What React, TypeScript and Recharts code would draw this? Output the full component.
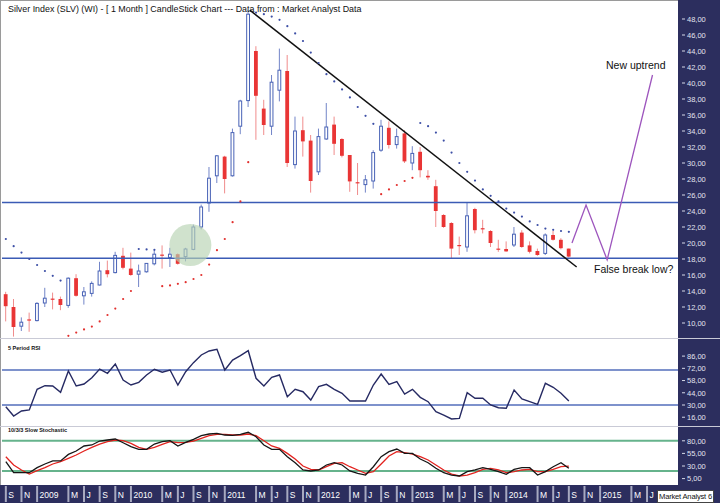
import React from 'react';
import { ComposedChart, LineChart, Line, Bar, XAxis, YAxis, ReferenceLine, ReferenceDot } from 'recharts';

// monthly bars, Sep 2008 .. Sep 2014 (index 0 = Sep 2008)
const openP = [13.6, 12.0, 9.6, 10.45, 10.3, 12.5, 13.05, 13.0, 12.2, 15.6, 13.4, 13.7, 14.75, 16.6, 16.3, 18.4, 16.8, 16.1, 16.4, 17.4, 18.55, 18.2, 18.6, 18.3, 19.2, 22.0, 25.0, 28.4, 30.8, 28.4, 34.6, 37.8, 44.0, 36.8, 34.6, 39.1, 41.5, 29.8, 34.1, 32.8, 28.9, 33.0, 34.8, 33.0, 31.0, 27.6, 27.3, 27.75, 31.6, 34.4, 32.3, 33.7, 30.0, 31.4, 28.4, 27.1, 23.5, 22.5, 19.75, 19.5, 24.25, 21.85, 21.5, 19.3, 19.25, 19.75, 21.3, 19.7, 19.0, 18.7, 21.0, 20.4, 19.3];
const highP = [13.9, 13.0, 10.7, 11.3, 12.6, 14.4, 13.8, 13.3, 15.7, 16.1, 14.5, 15.2, 17.65, 17.8, 18.9, 19.4, 18.8, 17.3, 17.5, 19.1, 19.7, 19.4, 18.7, 19.4, 22.3, 24.8, 29.5, 31.0, 30.9, 34.3, 37.9, 49.1, 44.6, 37.9, 41.0, 44.3, 43.5, 35.8, 35.8, 33.5, 34.3, 37.5, 35.8, 33.1, 31.0, 30.0, 28.5, 31.6, 35.4, 35.2, 34.3, 34.1, 32.1, 32.0, 29.1, 27.9, 23.6, 22.6, 20.8, 25.0, 24.4, 22.9, 21.6, 20.4, 20.2, 22.0, 21.6, 20.2, 19.3, 21.2, 21.5, 20.6, 19.3];
const lowP = [10.2, 8.3, 9.0, 8.9, 10.2, 12.0, 11.7, 11.6, 11.9, 13.3, 12.3, 13.3, 14.7, 15.7, 16.2, 16.7, 15.9, 14.5, 16.3, 17.2, 16.8, 17.0, 17.3, 17.7, 19.1, 21.7, 23.9, 27.5, 26.2, 28.3, 33.6, 37.0, 32.9, 33.5, 33.5, 37.7, 29.5, 29.3, 30.8, 26.3, 28.5, 32.9, 31.0, 30.7, 26.4, 26.0, 26.3, 26.8, 31.4, 31.8, 31.8, 30.0, 29.1, 28.2, 27.9, 22.0, 21.9, 18.1, 18.5, 18.9, 21.2, 21.2, 19.5, 18.9, 18.9, 19.5, 19.4, 18.7, 18.4, 18.5, 20.3, 19.2, 18.2];
const closeP = [12.1, 9.5, 10.1, 10.35, 12.45, 13.1, 12.95, 12.25, 15.6, 13.4, 13.9, 14.95, 16.5, 16.1, 18.45, 16.9, 16.0, 16.5, 17.45, 18.6, 18.45, 18.6, 17.4, 19.25, 22.0, 24.5, 28.1, 30.9, 28.0, 33.8, 37.75, 48.6, 38.4, 34.75, 40.1, 41.6, 30.0, 34.0, 32.7, 27.75, 33.3, 34.5, 32.4, 30.9, 27.7, 27.5, 27.9, 31.3, 34.6, 32.25, 33.3, 30.2, 31.2, 29.1, 28.2, 24.0, 22.0, 19.3, 19.65, 23.4, 21.6, 21.75, 20.0, 19.2, 18.95, 21.1, 19.5, 18.9, 18.5, 21.0, 20.4, 19.35, 18.3];

// parabolic SAR: below price (red) and above price (blue)
const sarBelow = [null, null, null, null, null, null, null, null, 8.4, 8.8, 9.2, 9.55, 10.2, 11.0, 11.8, 13.0, 14.0, null, null, null, 14.6, 14.7, 14.9, 15.1, 15.5, 16.0, 17.3, 19.1, 20.5, 22.6, 25.2, 30.1, null, null, null, null, null, null, null, null, null, null, null, null, null, null, null, null, 26.1, 26.7, 27.25, 27.75, 28.15, null, null, null, null, null, null, null, null, null, null, null, null, null, null, null, null, null, null, null, null];
const sarAbove = [20.5, 19.6, 18.8, 18.0, 17.25, 16.5, 15.9, 15.3, null, null, null, null, null, null, null, null, null, 19.25, 19.2, 19.15, null, null, null, null, null, null, null, null, null, null, null, null, 48.8, 48.6, 48.3, 47.9, 47.1, 46.2, 45.25, 43.8, 42.5, 41.1, 40.2, 39.2, 38.2, 37.0, 35.9, 34.9, null, null, null, null, null, 35.0, 34.6, 33.8, 32.8, 31.3, 30.0, 28.9, 27.8, 26.7, 25.9, 25.2, 24.3, 23.8, 23.3, 22.7, 22.25, 21.8, 21.65, 21.5, 21.4];

const rsi5 = [28, 17.4, 23.1, 24.3, 48.0, 52.1, 51.8, 44.5, 69.0, 51.8, 54, 61.3, 71.2, 66.3, 77.0, 58.6, 52.9, 56, 64.4, 70.9, 67.5, 70.1, 52.9, 68.1, 78.5, 87.3, 91.9, 93.8, 70.1, 81.5, 86.5, 92.2, 60.6, 51.8, 61.7, 64.4, 39.5, 48.0, 45.2, 35.7, 51.0, 53.7, 48.0, 43.4, 34.6, 34.6, 34.6, 52.9, 65.5, 53.7, 56.7, 42.6, 48.0, 38.8, 33.8, 22.3, 18.5, 14.0, 14.7, 44.1, 37.7, 37.7, 30.0, 26.9, 26.2, 47.2, 36.9, 33.8, 30.8, 54.9, 50.3, 43.4, 34.6];
const stochK = [38.5, 16.7, 16.7, 16.7, 26.7, 34, 40, 40, 53, 59.8, 69.7, 71.7, 79.6, 81.6, 83.6, 76.2, 68.3, 63, 63, 73.6, 78.2, 80.2, 69.7, 77, 83, 90.2, 93.5, 94.9, 91.5, 90.9, 92.9, 96.9, 88.1, 71.7, 63, 63, 48.5, 36.5, 22.1, 20.1, 22.1, 32, 36.5, 32, 20.1, 15.5, 12.1, 28.6, 48.5, 58.4, 63.7, 55.1, 55.1, 43.8, 36.5, 25.4, 16.7, 12.1, 10.2, 18.8, 22.1, 26.7, 23.4, 18.8, 13.5, 23.4, 26.7, 26.7, 12.1, 18.8, 28.6, 36.5, 25.4];
const stochD = [48.5, 32, 22.1, 14.1, 20.7, 26.7, 34, 38.5, 45.2, 51.8, 59.8, 67, 73.6, 78.2, 81.6, 80.2, 74.9, 67, 63, 67, 72.9, 78.2, 76.2, 77, 79.6, 84.9, 90.2, 92.9, 92.9, 91.5, 91.5, 93.5, 90.2, 80.2, 69.7, 65, 55.1, 43.8, 29.9, 23.4, 22.1, 28.6, 35.3, 36.5, 28.6, 22.1, 15.5, 18.8, 34, 49.8, 58.4, 56.4, 53.8, 48.5, 41.9, 32, 22.1, 14.1, 10.2, 12.1, 16.7, 23.4, 25.4, 22.1, 16.7, 18.8, 22.1, 23.4, 18.8, 18.8, 23.4, 28.6, 29.9];

// projected path (month index, price)
const projT = [72.4, 74.2, 76.9, 82.7];
const projP = [20.0, 24.75, 17.9, 41.0];

const tickPos = [0, 2, 4, 8, 10, 12, 14, 16, 20, 22, 24, 26, 28, 32, 34, 36, 38, 40, 44, 46, 48, 50, 52, 56, 58, 60, 62, 64, 68, 70, 72, 74, 76, 80, 82];
const tickText = ['S', 'N', '2009', 'M', 'J', 'S', 'N', '2010', 'M', 'J', 'S', 'N', '2011', 'M', 'J', 'S', 'N', '2012', 'M', 'J', 'S', 'N', '2013', 'M', 'J', 'S', 'N', '2014', 'M', 'J', 'S', 'N', '2015', 'M', 'J'];

const priceTicks = [10, 12, 14, 16, 18, 20, 22, 24, 26, 28, 30, 32, 34, 36, 38, 40, 42, 44, 46, 48];
const rsiTicks = [16, 30, 44, 58, 72, 86];
const stochTicks = [5, 30, 55, 80];

const data = openP.map((o, i) => ({
  t: i,
  o,
  h: highP[i],
  l: lowP[i],
  c: closeP[i],
  range: [lowP[i], highP[i]],
  sarUp: sarBelow[i],
  sarDn: sarAbove[i],
  rsi: rsi5[i],
  k: stochK[i],
  d: stochD[i],
}));
const projData = projT.map((t, i) => ({ t, p: projP[i] }));

const NAVY = '#2c2e5e';
const FONT = '"Liberation Sans", Arial, sans-serif';
const X_DOMAIN = [-0.49, 85.96];

const Candle = (props: any) => {
  const { x, y, width, height, payload } = props;
  if (!payload || payload.h == null) return null;
  const top = Math.min(y, y + height);
  const h = Math.abs(height);
  const k = payload.h > payload.l ? h / (payload.h - payload.l) : 0;
  const up = payload.c > payload.o;
  const cx = x + width / 2;
  const bTop = top + (payload.h - Math.max(payload.o, payload.c)) * k;
  const bH = Math.max(Math.abs(payload.o - payload.c) * k, 1.2);
  if (up) {
    return (
      <g>
        <line x1={cx} x2={cx} y1={top} y2={top + h} stroke="#7285c8" strokeWidth={1} />
        <rect x={x} y={bTop} width={width} height={bH} fill="#fff" stroke="#4862b6" strokeWidth={1} />
      </g>
    );
  }
  return (
    <g>
      <line x1={cx} x2={cx} y1={top} y2={top + h} stroke="#f08c8c" strokeWidth={1} />
      <rect x={x - 0.5} y={bTop} width={width + 1} height={bH} fill="#e93535" />
    </g>
  );
};

const fmt = (v: number) => v.toFixed(2).replace('.', ',');

const RightTick = (props: any) => {
  const { x, y, payload } = props;
  return (
    <g>
      <line x1={x + 4} x2={x + 7} y1={y} y2={y} stroke="#d6d9e8" strokeWidth={1} />
      <text x={x + 9} y={y + 2.8} fontSize={7.5} fill="#e2e4f0" fontFamily={FONT}>{fmt(payload.value)}</text>
    </g>
  );
};

const BottomTick = (props: any) => {
  const { x, y, payload } = props;
  const label = tickText[tickPos.indexOf(payload.value)];
  return (
    <g>
      <line x1={x} x2={x} y1={y + 1} y2={y + 17} stroke="#a7a9c0" strokeWidth={2} />
      <text x={x + 2.5} y={y + 12.5} fontSize={8.5} fill="#ffffff" fontFamily={FONT}>{label}</text>
    </g>
  );
};

const dotBlue = { r: 1.1, fill: '#3d4fa6', stroke: 'none' };
const dotRed = { r: 1.1, fill: '#e2302e', stroke: 'none' };

const textStyle: React.CSSProperties = { position: 'absolute', whiteSpace: 'nowrap', lineHeight: 1, fontFamily: FONT, color: '#111' };

export default function App() {
  return (
    <div style={{ position: 'absolute', left: 0, top: 0, width: 720, height: 503, background: NAVY, overflow: 'hidden', fontFamily: FONT }}>
      <div style={{ position: 'absolute', left: 0, top: 0, width: 678, height: 485, background: '#fff', borderLeft: '1px solid #9a9a9a', borderTop: '1px solid #9a9a9a', boxSizing: 'border-box' }} />
      <div style={{ position: 'absolute', left: 0, top: 338, width: 720, height: 1, background: '#c9cad6' }} />
      <div style={{ position: 'absolute', left: 0, top: 426, width: 720, height: 1, background: '#c9cad6' }} />

      <div style={{ position: 'absolute', left: 0, top: 0 }}>
        <ComposedChart width={720} height={339} data={data} margin={{ top: 2, right: 0, bottom: 2, left: 2 }}>
          <XAxis dataKey="t" type="number" domain={X_DOMAIN} hide allowDataOverflow />
          <YAxis orientation="right" width={42} domain={[8.25, 50.125]} ticks={priceTicks} interval={0} tick={<RightTick />} tickSize={0} tickMargin={0} axisLine={false} tickLine={false} allowDataOverflow />
          <ReferenceDot x={23.6} y={19.75} r={21} fill="#b7d2b2" fillOpacity={0.65} stroke="none" />
          <ReferenceLine y={25.05} stroke="#3b5bb5" strokeWidth={1.5} />
          <ReferenceLine y={18.1} stroke="#3b5bb5" strokeWidth={1.5} />
          <Bar dataKey="range" barSize={5} shape={<Candle />} isAnimationActive={false} />
          <Line dataKey="sarUp" stroke="none" dot={dotRed} activeDot={false} isAnimationActive={false} />
          <Line dataKey="sarDn" stroke="none" dot={dotBlue} activeDot={false} isAnimationActive={false} />
          <ReferenceLine segment={[{ x: 31.2, y: 49.1 }, { x: 73.0, y: 17.0 }]} stroke="#111111" strokeWidth={1.5} />
          <Line data={projData} dataKey="p" stroke="#9d55bd" strokeWidth={1.3} dot={false} activeDot={false} isAnimationActive={false} />
        </ComposedChart>
      </div>

      <div style={{ position: 'absolute', left: 0, top: 339 }}>
        <LineChart width={720} height={87} data={data} margin={{ top: 2, right: 0, bottom: 1, left: 2 }}>
          <XAxis dataKey="t" type="number" domain={X_DOMAIN} hide allowDataOverflow />
          <YAxis orientation="right" width={42} domain={[7.1, 103.3]} ticks={rsiTicks} interval={0} tick={<RightTick />} tickSize={0} tickMargin={0} axisLine={false} tickLine={false} allowDataOverflow />
          <ReferenceLine y={70} stroke="#7e92cc" strokeWidth={2} />
          <ReferenceLine y={30} stroke="#7e92cc" strokeWidth={2} />
          <Line dataKey="rsi" stroke="#262a63" strokeWidth={1.4} dot={false} activeDot={false} isAnimationActive={false} />
        </LineChart>
      </div>

      <div style={{ position: 'absolute', left: 0, top: 426 }}>
        <LineChart width={720} height={77} data={data} margin={{ top: 1, right: 0, bottom: 0, left: 2 }}>
          <XAxis dataKey="t" type="number" domain={X_DOMAIN} ticks={tickPos} interval={0} height={18} tick={<BottomTick />} tickSize={0} tickMargin={0} axisLine={false} tickLine={false} allowDataOverflow />
          <YAxis orientation="right" width={42} domain={[-7.7, 107.4]} ticks={stochTicks} interval={0} tick={<RightTick />} tickSize={0} tickMargin={0} axisLine={false} tickLine={false} allowDataOverflow />
          <ReferenceLine y={80} stroke="#66b38c" strokeWidth={2} />
          <ReferenceLine y={20} stroke="#66b38c" strokeWidth={2} />
          <Line dataKey="d" stroke="#e3231f" strokeWidth={1.3} dot={false} activeDot={false} isAnimationActive={false} />
          <Line dataKey="k" stroke="#161616" strokeWidth={1.3} dot={false} activeDot={false} isAnimationActive={false} />
        </LineChart>
      </div>

      <div style={{ ...textStyle, left: 8, top: 5, fontSize: 8.9 }}>Silver Index (SLV) (WI) -  [ 1 Month ] CandleStick Chart --- Data from : Market Analyst Data</div>
      <div style={{ ...textStyle, left: 606, top: 60.4, fontSize: 10.5 }}>New uptrend</div>
      <div style={{ ...textStyle, left: 594, top: 263.8, fontSize: 10.5 }}>False break low?</div>
      <div style={{ ...textStyle, left: 8, top: 346, fontSize: 5.5, fontWeight: 'bold' }}>5 Period RSI</div>
      <div style={{ ...textStyle, left: 8, top: 428, fontSize: 5.5, fontWeight: 'bold' }}>10/3/3 Slow Stochastic</div>
      <div style={{ ...textStyle, left: 657, top: 490, height: 11, padding: '0 1px', fontSize: 7.6, lineHeight: '11px', letterSpacing: -0.2, background: '#fff', border: '1px solid #444' }}>Market Analyst 6</div>
    </div>
  );
}
